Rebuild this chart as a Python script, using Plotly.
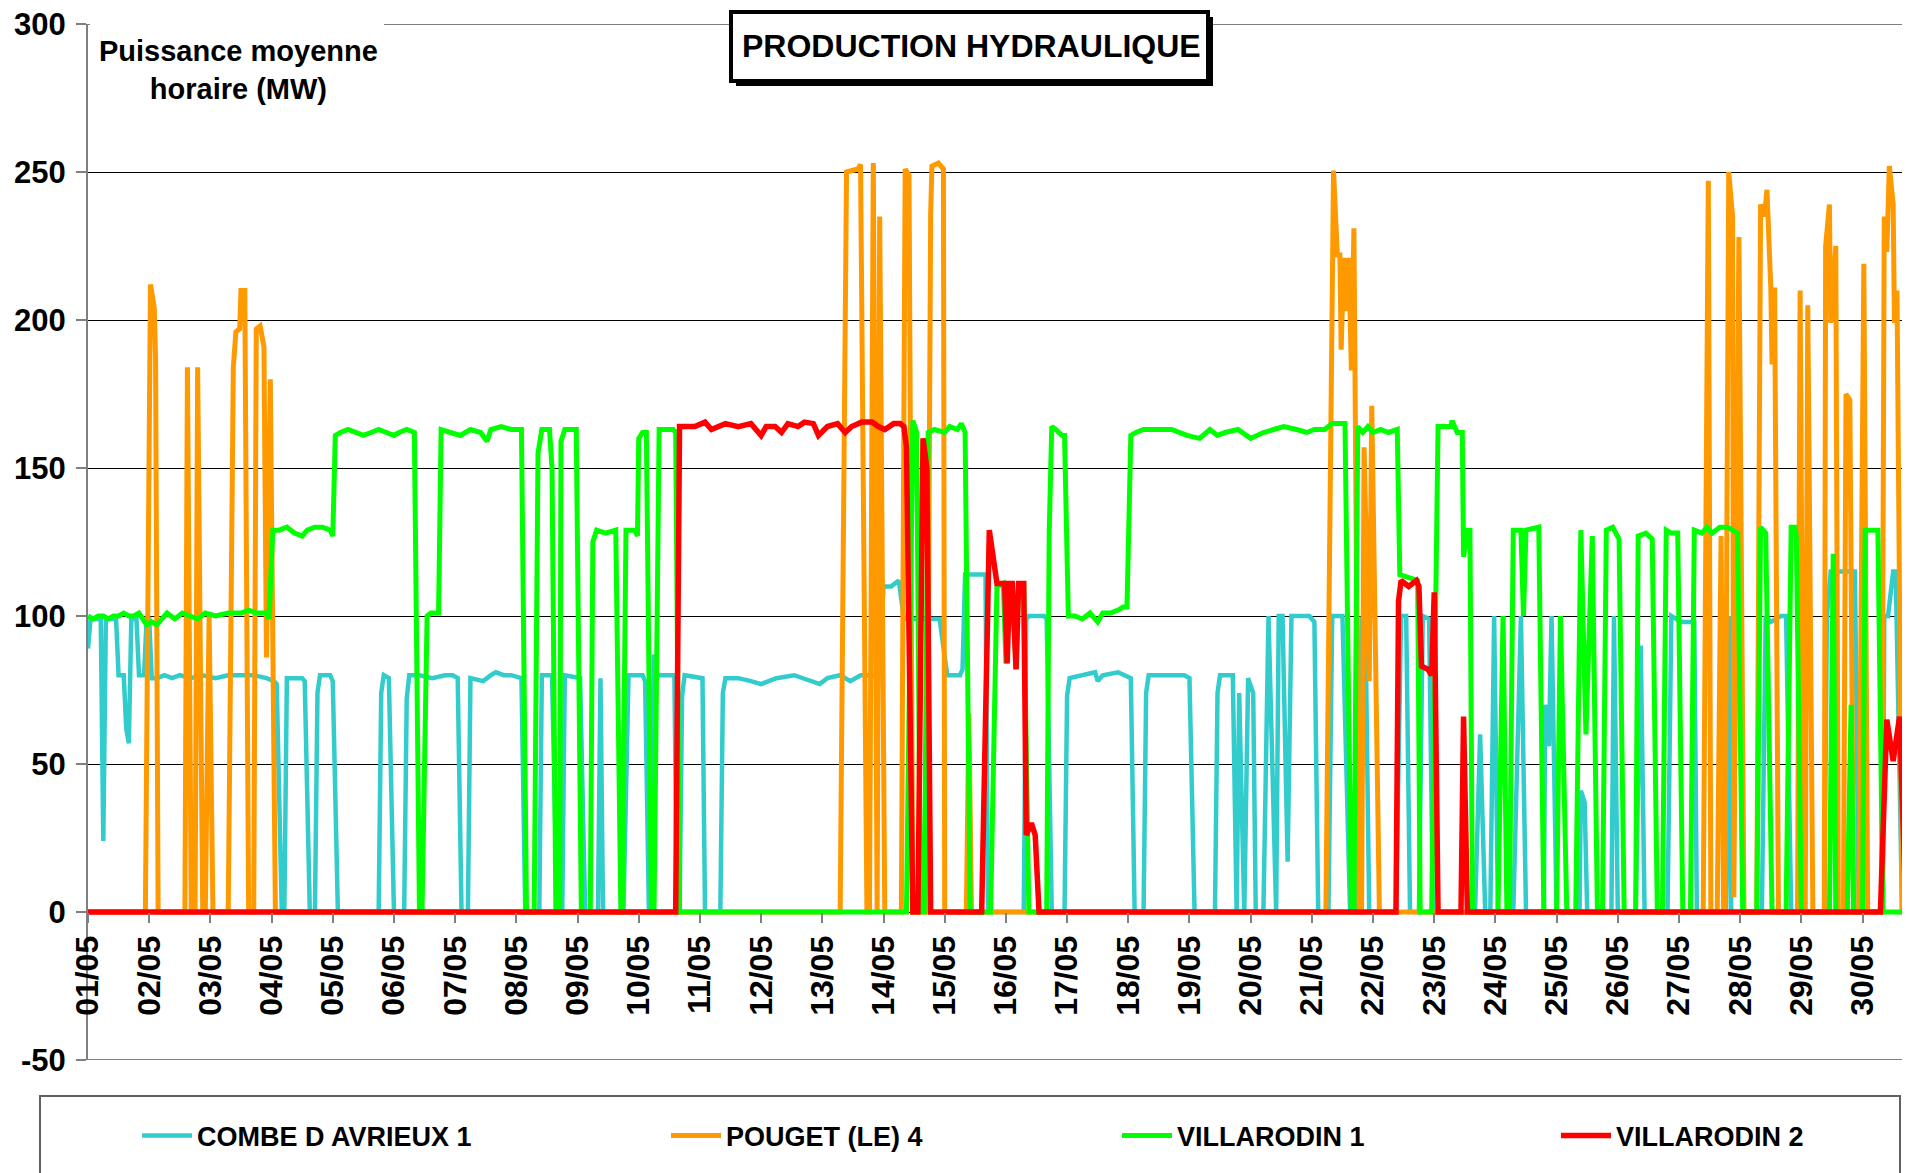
"""Production hydraulique - puissance moyenne horaire, mai."""

import pandas as pd
import plotly.graph_objects as go

# (heure depuis le 01/05 00:00, MW) - points de rupture
COMBE = [
    (0, 89), (1, 99), (5, 99), (6, 24), (7, 99), (11, 99), (12, 80), (14, 80), (15, 62), (16, 57),
    (17, 99), (19, 99), (20, 80), (22, 80), (23, 99), (24, 99), (25, 79), (27, 79), (30, 80), (33, 79),
    (36, 80), (40, 79), (45, 80), (50, 79), (55, 80), (60, 80), (65, 80), (70, 79), (73, 78), (74, 77),
    (76, 0), (77, 0), (78, 79), (84, 79), (85, 78), (87, 0), (89, 0), (90, 74), (91, 80), (95, 80),
    (96, 78), (98, 0), (114, 0), (115, 74), (116, 80), (118, 79), (120, 0), (124, 0), (125, 72), (126, 80),
    (130, 80), (135, 79), (140, 80), (143, 80), (145, 79), (146.5, 0), (149, 0), (150, 79), (155, 78),
    (158, 80), (160, 81), (163, 80), (166, 80), (170, 79), (171.5, 0), (177, 0), (178, 80), (182, 80),
    (184, 0), (186, 0), (187, 80), (193, 79), (195, 0), (200, 0), (201, 79), (202, 0), (210, 0), (212, 80),
    (217.5, 80), (218.5, 78), (220, 0), (222, 87), (223, 80), (229.5, 80), (230, 79), (231, 0), (232, 0),
    (233, 73), (234, 80), (241, 79), (242, 0), (248, 0), (249, 74), (250, 79), (255, 79), (260, 78),
    (264, 77), (267, 78), (270, 79), (277, 80), (280, 79), (287, 77), (290, 79), (295, 80), (299, 78),
    (303, 80), (310, 80), (312, 110), (315, 110), (318, 112), (320, 99), (334, 99), (337, 80), (342, 80),
    (343, 82), (344, 114), (352, 114), (353, 0), (367, 0), (368, 99), (369, 100), (375, 100), (376, 99),
    (378, 0), (383, 0), (384, 73), (385, 79), (390, 80), (395, 81), (396, 78), (398, 80), (404, 81),
    (407, 80), (409, 79), (410.5, 0), (414, 0), (415, 74), (416, 80), (430, 80), (432, 79), (434, 0),
    (442, 0), (443, 74), (444, 80), (449, 80), (450.5, 0), (451.5, 74), (453.5, 0), (455, 79), (457, 74),
    (458, 0), (461, 0), (463, 100), (466, 0), (467, 100), (468.5, 100), (470.5, 17), (472, 100), (479, 100),
    (481, 98), (482.5, 0), (486.5, 0), (488, 100), (492, 100), (495, 0), (498, 0), (499.5, 99), (501, 99),
    (502.5, 0), (513, 0), (515, 100), (517, 100), (518.5, 0), (522, 0), (523.5, 100), (526, 99),
    (527.5, 0), (544, 0), (546, 60), (548, 0), (550, 0), (551.5, 100), (553, 0), (559, 0), (562, 100),
    (564, 0), (571, 0), (571.5, 70), (573, 56), (574, 100), (576, 0), (585, 0), (585.5, 41), (587, 37),
    (588, 0), (597.5, 0), (598.5, 100), (600, 0), (607, 0), (609, 90), (610.5, 0), (619.5, 0), (621, 100),
    (625, 98), (630, 98), (631, 0), (642.5, 0), (643.5, 100), (644.5, 0), (656.5, 0), (658, 100),
    (660, 98), (664, 100), (666, 100), (668, 0), (681, 0), (682, 100), (683.5, 115), (690, 115),
    (693, 115), (694.5, 0), (704, 0), (704.5, 100), (706, 100), (708, 115), (709, 115), (711.5, 0),
    (712.5, 0), (713.5, 100), (714.6, 100),
]

POUGET = [
    (0, 0), (22.5, 0), (24.5, 212), (26, 204), (26.5, 187), (27.5, 0), (38, 0), (39, 184), (40.5, 0),
    (42, 0), (43, 184), (45, 0), (46, 0), (47.5, 100), (49, 0), (55, 0), (57, 184), (58, 196),
    (59.5, 197), (60, 210), (61.5, 210), (63, 0), (65, 0), (66, 197), (67.5, 198), (69, 191), (70, 86),
    (71.5, 180), (73.5, 0), (295, 0), (297.5, 250), (299.5, 250.5), (302, 251), (303, 252.5), (305.5, 0),
    (306.5, 0), (308, 253), (309.5, 0), (310.5, 235), (312.5, 0), (319, 0), (320.5, 251), (322, 249),
    (323.5, 0), (329, 0), (330.5, 236), (331, 252), (333.5, 253), (335.5, 251), (336, 0), (344.5, 0),
    (345.5, 67), (346.5, 0), (485.5, 0), (488.5, 250.5), (490, 222), (491, 222), (491.5, 190),
    (492.5, 221), (493, 203), (494.5, 221), (495.5, 183), (496.5, 231), (498.5, 0), (499.5, 0),
    (500.5, 157), (502.5, 78), (503.5, 171), (506.5, 0), (633.5, 0), (635.5, 247), (636.5, 0), (639, 0),
    (640.5, 127), (641.5, 0), (642, 0), (643.5, 250), (645, 235), (645.5, 5), (647.5, 228), (649.5, 0),
    (654.5, 0), (656, 239), (657.5, 235), (658.5, 244), (660, 211), (660.5, 185), (661.5, 211), (663, 0),
    (670.5, 0), (671.5, 210), (673, 0), (673.5, 0), (674.5, 205), (676.5, 0), (681, 0), (681.5, 225),
    (683, 239), (683.5, 199), (685.5, 225), (686.5, 0), (688.5, 0), (689.5, 175), (691, 173), (692.5, 0),
    (694.5, 0), (696.5, 219), (698, 0), (703.5, 0), (704.5, 235), (705.5, 223), (706.5, 252), (708, 239),
    (708.5, 199), (709.5, 210), (711.5, 0), (712.5, 0), (713.5, 220), (714.6, 232),
]

VILLARODIN1 = [
    (0, 100), (2, 99), (4, 100), (6, 100), (8, 99), (10, 100), (12, 100), (14, 101), (16, 100), (18, 100),
    (20, 101), (23, 97), (25, 98), (27, 97), (29, 99), (31, 101), (34, 99), (37, 101), (40, 100), (43, 99),
    (46, 101), (50, 100), (55, 101), (60, 101), (63, 102), (66, 101), (70, 101), (71, 99), (72.5, 129),
    (75, 129), (78, 130), (81, 128), (84, 127), (86, 129), (89, 130), (92, 130), (95, 129), (96, 127),
    (97, 161), (99, 162), (102, 163), (105, 162), (108, 161), (111, 162), (114, 163), (117, 162),
    (120, 161), (122, 162), (125, 163), (128, 162), (130, 0), (131, 0), (133, 100), (134.5, 101),
    (137.5, 101), (138.5, 163), (142, 162), (146, 161), (150, 163), (154, 162), (156.5, 159), (158, 163),
    (162, 164), (166, 163), (170, 163), (172, 0), (175, 0), (176.5, 155), (178, 163), (181, 163),
    (182, 150), (183.5, 0), (185, 0), (185.5, 159), (187, 163), (191.5, 163), (193.5, 0), (197, 0),
    (198, 125), (199.5, 129), (203, 128), (207, 129), (209, 0), (209.5, 0), (211, 129), (214.5, 129),
    (215.5, 127), (216, 160), (217.5, 162), (219, 162), (221, 0), (222, 0), (224, 163), (229.5, 163),
    (230.5, 162), (232, 0), (321, 0), (323.5, 166), (325, 162), (326.5, 0), (328, 0), (329.5, 162),
    (332, 163), (336, 162), (338, 164), (341, 163), (342.5, 165), (344, 162), (346, 0), (354, 0),
    (356.5, 110), (359, 111), (360, 84), (361, 111), (362.5, 111), (364, 82), (365, 111), (367, 111),
    (369, 0), (376, 0), (377, 129), (378, 164), (379.5, 163), (382, 161), (383, 161), (384.5, 100),
    (387, 100), (390, 99), (393, 101), (396, 98), (398, 101), (401, 101), (404, 102), (406, 103),
    (407.5, 103), (409, 161), (411, 162), (414, 163), (418, 163), (421, 163), (425, 163), (431, 161),
    (436, 160), (440, 163), (443, 161), (446, 162), (451, 163), (456, 160), (461, 162), (465, 163),
    (469, 164), (474, 163), (478, 162), (481, 163), (485, 163), (488, 165), (493, 165), (495.5, 0),
    (496.5, 0), (498, 164), (500, 162), (502, 164), (504, 162), (507, 163), (510, 162), (513.5, 163),
    (514.5, 114), (521.5, 112), (522.5, 0), (527, 0), (529.5, 164), (534.5, 164), (535, 166), (537, 162),
    (539, 162), (539.5, 120), (541, 129), (542, 129), (543, 0), (553, 0), (555, 100), (556.5, 0),
    (557.5, 0), (559, 129), (562, 129), (563, 100), (564, 129), (569, 130), (571, 0), (576, 0),
    (577.5, 100), (580, 0), (583.5, 0), (585.5, 129), (587.5, 60), (590, 127), (592, 0), (594, 0),
    (595.5, 129), (598, 130), (600.5, 126), (602.5, 0), (607, 0), (608, 127), (611, 128), (613.5, 126),
    (615.5, 0), (617.5, 0), (619, 129), (621, 128), (623.5, 128), (625.5, 0), (628.5, 0), (630, 129),
    (633, 128), (635, 130), (637, 128), (640, 130), (643, 130), (645, 129), (647, 128), (649, 0),
    (654.5, 0), (656, 130), (658, 128), (660.5, 0), (666, 0), (668, 130), (669.5, 130), (670, 127),
    (672, 0), (683, 0), (684.5, 121), (685.5, 0), (690, 0), (691.5, 70), (692.5, 0), (696, 0), (697, 129),
    (702, 129), (704, 0), (714.6, 0),
]

VILLARODIN2 = [
    (0, 0), (230.5, 0), (232, 164), (238, 164), (242, 165.5), (244.5, 163), (250, 165), (255, 164),
    (260, 165), (264, 161), (266, 164), (269.5, 164), (272, 162), (274.5, 165), (278.5, 164),
    (281, 165.5), (284.5, 165), (286.5, 161), (290, 164), (294, 165), (297, 162), (299.5, 164),
    (303.5, 165.5), (307.5, 165.5), (310, 164), (312.5, 163), (316, 165), (318.5, 165), (320, 164),
    (321, 157), (323.5, 0), (325.5, 0), (327.5, 160), (329, 150), (330.5, 0), (350.5, 0), (353.5, 129),
    (355.5, 115), (356.5, 111), (359.5, 111), (360.5, 84), (361.5, 111), (362.5, 111), (364, 82),
    (365, 111), (367, 111), (368, 26), (370, 30), (371.5, 26), (373, 0), (513, 0), (514, 105), (515, 112),
    (518, 110), (521, 112), (522, 110), (523, 83), (525.5, 82), (527, 80), (528, 108), (529.5, 0),
    (538.5, 0), (539.5, 66), (541, 0), (703, 0), (705.5, 65), (708, 51), (710.5, 66), (713, 0), (714.6, 0),
]

SERIES = [
    ("COMBE D AVRIEUX 1", COMBE, "#33CCCC", 4.5),
    ("POUGET (LE) 4", POUGET, "#FF9900", 5),
    ("VILLARODIN 1", VILLARODIN1, "#00FF00", 5),
    ("VILLARODIN 2", VILLARODIN2, "#FF0000", 5.5),
]

Y_TICKS = [-50, 0, 50, 100, 150, 200, 250, 300]
Y_LABELS = ["-50", "0", "50", "100", "150", "200", "250", "300"]

START = pd.Timestamp("2008-05-01")
END_HOURS = 714.6
FONT = "Arial, Liberation Sans, sans-serif"

# page geometry (px, page coordinates); the html body adds an 8px margin
OFF = 8
W, H = 1910 - OFF, 1173 - OFF
ML, MT = 88 - OFF, 24 - OFF
MB = H - (1060 - OFF)
PW, PH = W - ML, H - MT - MB


def px_x(x):
    return (x - OFF - ML) / PW


def px_y(y):
    return (H - MB - (y - OFF)) / PH


fig = go.Figure()
legend_names = ["legend", "legend2", "legend3", "legend4"]
legend_text_x = [197, 726, 1177, 1616]
for (name, pts, color, width), leg in zip(SERIES, legend_names):
    hours = [p[0] for p in pts]
    mw = [p[1] for p in pts]
    fig.add_trace(go.Scatter(
        x=START + pd.to_timedelta(hours, unit="h"), y=mw, mode="lines", name=name,
        line=dict(color=color, width=width), legend=leg,
    ))

legends = {}
for leg, tx in zip(legend_names, legend_text_x):
    legends[leg] = dict(
        x=px_x(tx - 60), y=px_y(1136), xanchor="left", yanchor="middle", orientation="h",
        bgcolor="rgba(0,0,0,0)", borderwidth=0, itemwidth=50,
        font=dict(family=FONT, size=27, color="black", weight="bold"),
    )

fig.update_layout(
    width=W, height=H, paper_bgcolor="white", plot_bgcolor="white",
    margin=dict(l=ML, r=0, t=MT, b=MB, pad=0),
    showlegend=True,
    **legends,
    xaxis=dict(
        type="date", range=[START, START + pd.Timedelta(hours=END_HOURS)],
        tickmode="linear", tick0=START, dtick=86400000, tickformat="%d/%m", tickangle=-90,
        tickfont=dict(family=FONT, size=32, color="black", weight="bold"),
        ticks="outside", ticklen=10, tickwidth=1.5, tickcolor="#808080",
        showgrid=False, showline=False, zeroline=False,
        anchor="free", position=50 / 350,
    ),
    yaxis=dict(
        range=[-50, 300], tickmode="array", tickvals=Y_TICKS, ticktext=Y_LABELS,
        tickfont=dict(family=FONT, size=31, color="black", weight="bold"),
        ticks="outside", ticklen=10, tickwidth=1.5, tickcolor="#808080", ticklabelstandoff=4,
        ticklabeloverflow="allow", automargin=False,
        showgrid=True, gridcolor="black", gridwidth=1,
        showline=True, linecolor="#808080", linewidth=2, zeroline=False,
    ),
    shapes=[
        # top gridline at 300 and bottom border at -50
        dict(type="line", xref="paper", yref="y", x0=0, x1=1, y0=300, y1=300,
             line=dict(color="black", width=1), layer="below"),
        dict(type="line", xref="paper", yref="y", x0=0, x1=1, y0=-50, y1=-50,
             line=dict(color="#808080", width=2), layer="above"),
        # white patch behind the axis caption
        dict(type="rect", xref="paper", yref="paper", x0=px_x(90), x1=px_x(384), y0=px_y(110), y1=px_y(18),
             fillcolor="white", line=dict(width=0), layer="above"),
        # title box with shadow
        dict(type="rect", xref="paper", yref="paper", x0=px_x(736), x1=px_x(1213), y0=px_y(86), y1=px_y(17),
             fillcolor="black", line=dict(width=0), layer="above"),
        dict(type="rect", xref="paper", yref="paper", x0=px_x(731), x1=px_x(1208), y0=px_y(81), y1=px_y(12),
             fillcolor="white", line=dict(color="black", width=4), layer="above"),
        # legend frame
        dict(type="rect", xref="paper", yref="paper", x0=px_x(40), x1=px_x(1900), y0=px_y(1200), y1=px_y(1096),
             fillcolor="rgba(0,0,0,0)", line=dict(color="#606060", width=2), layer="above"),
    ],
    annotations=[
        dict(text="PRODUCTION HYDRAULIQUE", xref="paper", yref="paper", x=px_x(971), y=px_y(46),
             xanchor="center", yanchor="middle", showarrow=False,
             font=dict(family=FONT, size=32, color="black", weight="bold")),
        dict(text="Puissance moyenne<br>horaire (MW)", xref="paper", yref="paper", x=px_x(238), y=px_y(70),
             xanchor="center", yanchor="middle", showarrow=False, align="center",
             font=dict(family=FONT, size=29, color="black", weight="bold")),
    ],
)

fig.write_html("out.html")
